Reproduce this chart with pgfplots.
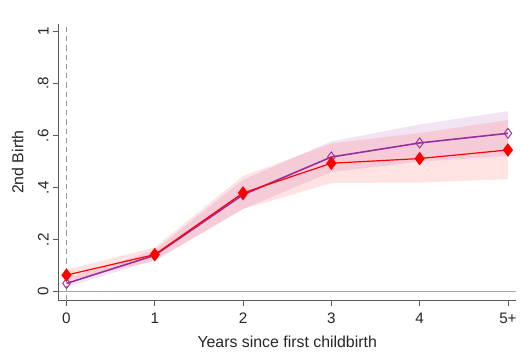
\documentclass[border=0pt]{standalone}
\usepackage{pgfplots}
\pgfplotsset{compat=1.18}
\usepackage{fontspec}
\setmainfont{Liberation Sans}
\definecolor{purp}{RGB}{155,45,155}
\definecolor{axgray}{RGB}{90,90,90}
\begin{document}
\begin{tikzpicture}[x=0.75pt,y=0.75pt]
\begin{axis}[
  scale only axis,
  width=345.75pt, height=209.25pt,
  xmin=-0.09, xmax=5.09,
  ymin=-0.034, ymax=1.03,
  axis x line*=bottom, axis y line*=left,
  axis line style={axgray, line width=0.8pt},
  xtick={0,1,2,3,4,5}, xticklabels={0,1,2,3,4,5+},
  ytick={0,0.2,0.4,0.6,0.8,1}, yticklabels={0,.2,.4,.6,.8,1},
  yticklabel style={rotate=90, anchor=south},
  xticklabel style={yshift=-2pt},
  tick align=outside, tick style={axgray, line width=0.6pt},
  major tick length=4pt,
  /pgf/number format/assume math mode=true,
  ticklabel style={font=\fontsize{11.5}{13}\selectfont, text=black!85},
  xlabel={Years since first childbirth},
  ylabel={2nd Birth},
  label style={font=\fontsize{12}{14}\selectfont, text=black!85},
  xlabel style={yshift=-2pt},
  ylabel style={yshift=4pt},
  clip=false,
]
% baseline at 0
\addplot[gray!70, line width=0.6pt, forget plot] coordinates {(-0.09,0) (5.09,0)};
% dashed vertical at 0
\addplot[gray!80, dashed, line width=0.6pt, dash pattern=on 4pt off 3pt, forget plot] coordinates {(0,-0.034) (0,1.03)};
% purple CI band
\addplot[draw=none, fill=purp, fill opacity=0.13, forget plot] coordinates {
 (0,0.050) (1,0.160) (2,0.430) (3,0.578) (4,0.643) (5,0.694)
 (5,0.522) (4,0.500) (3,0.460) (2,0.318) (1,0.122) (0,0.018)};
% red CI band
\addplot[draw=none, fill=red, fill opacity=0.11, forget plot] coordinates {
 (0,0.085) (1,0.170) (2,0.445) (3,0.570) (4,0.610) (5,0.660)
 (5,0.433) (4,0.420) (3,0.418) (2,0.318) (1,0.118) (0,0.043)};
% purple line
\addplot[purp, line width=1.2pt, mark=diamond, mark size=3.8pt, mark options={solid, fill=white, line width=0.7pt}] coordinates {
 (0,0.032) (1,0.140) (2,0.373) (3,0.518) (4,0.572) (5,0.609)};
% red line
\addplot[red, line width=0.9pt, mark=diamond*, mark size=4.4pt, mark options={solid, fill=red}] coordinates {
 (0,0.064) (1,0.143) (2,0.380) (3,0.494) (4,0.512) (5,0.545)};
\end{axis}
\path (current axis.south west) ++(-59,-61) rectangle ++(521,364);
\end{tikzpicture}
\end{document}
